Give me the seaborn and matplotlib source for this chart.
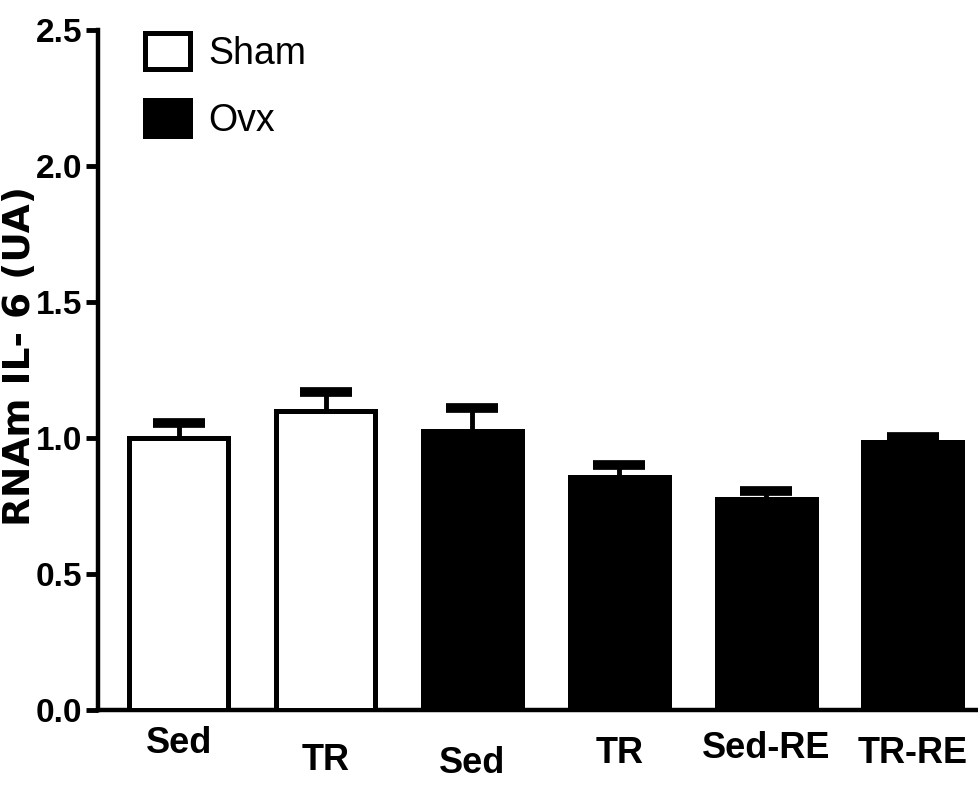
import matplotlib
matplotlib.use("Agg")
import matplotlib.pyplot as plt
import matplotlib.transforms as mtransforms
from matplotlib.patches import Patch
import seaborn as sns
import pandas as pd
import numpy as np

categories = ["Sed", "TR", "Sed", "TR", "Sed-RE", "TR-RE"]
groups = ["Sham", "Sham", "Ovx", "Ovx", "Ovx", "Ovx"]
means = [1.00, 1.10, 1.025, 0.855, 0.775, 0.985]
errors = [0.055, 0.07, 0.085, 0.045, 0.03, 0.02]
yticks = [0.0, 0.5, 1.0, 1.5, 2.0, 2.5]
ytick_labels = ["0.0", "0.5", "1.0", "1.5", "2.0", "2.5"]
label_gaps = [16, 33, 36, 26, 21, 26]  # px gap below axis for each x label

sns.set_theme(style="white")
plt.rcParams["font.family"] = ["Liberation Sans", "DejaVu Sans"]
for k in ["text.color", "axes.labelcolor", "xtick.color", "ytick.color"]:
    plt.rcParams[k] = "black"

df = pd.DataFrame({"pos": [str(i) for i in range(len(categories))],
                   "mean": means, "group": groups})

fig = plt.figure(figsize=(9.79, 7.89), dpi=100)
ax = fig.add_axes([0.1, 0.1, 0.9, 0.862])

palette = {"Sham": "white", "Ovx": "black"}
sns.barplot(data=df, x="pos", y="mean", hue="group", palette=palette,
            dodge=False, width=0.675, edgecolor="black", linewidth=3.6,
            ax=ax, legend=False, zorder=3)

x = np.arange(len(categories))
eb = ax.errorbar(x, means, yerr=[np.zeros(len(errors)), errors], fmt="none",
                 ecolor="black", elinewidth=3.5, capsize=19, capthick=7,
                 zorder=2)
# hide the lower caps (only upper error bars are shown)
eb[1][0].set_visible(False)
for c in eb[1]:
    c.set_solid_capstyle("round")

ax.set_ylim(0, 2.5)
ax.set_xlim(-0.55, 5.45)
ax.set_yticks(yticks)
ax.set_yticklabels(ytick_labels, fontsize=24, fontweight="bold")
ax.set_xticks(x)
ax.set_xticklabels([""] * len(categories))
ax.set_xlabel("")
ax.set_ylabel("RNAm IL- 6 (UA)", fontsize=27, fontweight="bold",
              family=["DejaVu Sans"])
ax.yaxis.set_label_coords(-0.068, 0.52)
ax.tick_params(axis="y", direction="out", length=9, width=3.5, pad=2,
               left=True)
ax.tick_params(axis="x", length=0)

for s in ["top", "right"]:
    ax.spines[s].set_visible(False)
for s in ["left", "bottom"]:
    ax.spines[s].set_linewidth(3.2)
    ax.spines[s].set_color("black")

for i, (lab, gap) in enumerate(zip(categories, label_gaps)):
    tr = mtransforms.offset_copy(ax.get_xaxis_transform(), fig=fig,
                                 x=0, y=-gap, units="dots")
    ax.text(i, 0, lab, transform=tr, ha="center", va="top", fontsize=26,
            fontweight="bold")

handles = [Patch(facecolor="white", edgecolor="black", linewidth=3.6, label="Sham"),
           Patch(facecolor="black", edgecolor="black", linewidth=3.6, label="Ovx")]
ax.legend(handles=handles, loc="upper left", bbox_to_anchor=(0.053, 0.995),
          frameon=False, fontsize=27, handlelength=1.2, handleheight=1.08,
          handletextpad=0.5, labelspacing=0.75, borderpad=0, borderaxespad=0)

fig.savefig("out.png", dpi=100)
